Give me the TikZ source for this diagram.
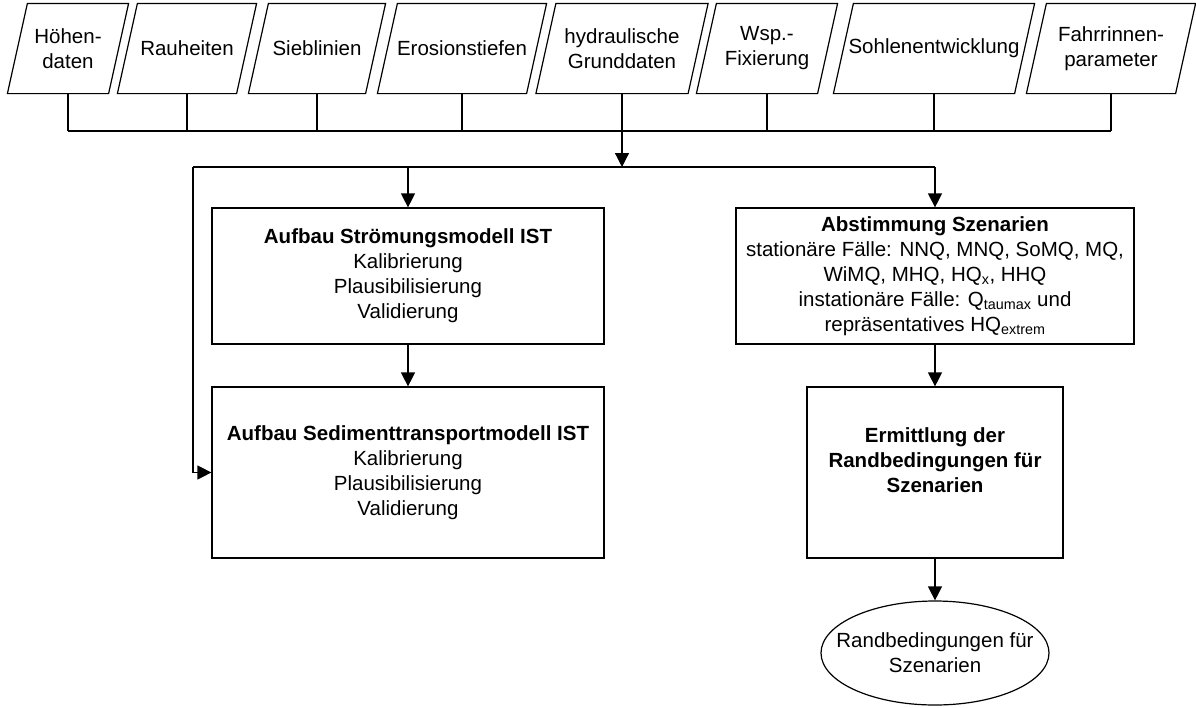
\documentclass[tikz,border=0pt]{standalone}
\usepackage{fontspec}
\setmainfont{Liberation Sans}
\usetikzlibrary{shapes.geometric,arrows.meta,positioning}
\begin{document}
\begin{tikzpicture}[x=1pt, y=-1pt, line width=1.2pt, >={Triangle[length=14pt,width=14pt]},
		font=\fontsize{20.5}{25}\selectfont,
		datain/.style={rectangle, minimum height=89pt, inner sep=0pt, align=center},
		procbox/.style={rectangle, draw, align=center, inner sep=0pt},
		resultbox/.style={ellipse, draw, align=center, inner xsep=-20pt, inner ysep=0pt,
			minimum width=228pt, minimum height=104pt}]
	\useasboundingbox (0,0) rectangle (1196,707);
	% Eingangsdaten
	\node[datain, minimum width=100pt] (hoehe) at (68,48.5) {Höhen-\\daten};
	\node[datain, minimum width=118pt] (rauh) at (187,48.5) {Rauheiten};
	\node[datain, minimum width=116pt] (sieb) at (317,48.5) {Sieblinien};
	\node[datain, minimum width=148pt] (eros) at (462,48.5) {Erosionstiefen};
	\node[datain, minimum width=151pt] (hydr) at (622,48.5) {hydraulische\\Grunddaten};
	\node[datain, minimum width=120pt] (wsp) at (767,48.5) {Wsp.-\\Fixierung};
	\node[datain, minimum width=180pt] (sohle) at (934,48.5) {Sohlenentwicklung};
	\node[datain, minimum width=148pt] (fahr) at (1111,48.5) {Fahrrinnen-\\parameter};
	\foreach \n in {hoehe,rauh,sieb,eros,hydr,wsp,sohle,fahr}
		\draw ([xshift=-10pt]\n.south west) -- ([xshift=10pt]\n.north west)
			-- ([xshift=10pt]\n.north east) -- ([xshift=-10pt]\n.south east) -- cycle;
	\coordinate (bus1) at (0,131);
	\coordinate (bus2) at (0,167);
	\coordinate (lft) at (193,167);
	% Modelle
	\node[procbox, minimum width=392pt, minimum height=136pt] (stroem) at (408,276)
		{\textbf{Aufbau Strömungsmodell IST}\\Kalibrierung\\Plausibilisierung\\Validierung};
	\node[procbox, minimum width=392pt, minimum height=171pt] (sedi) at (408,472.5)
		{\textbf{Aufbau Sedimenttransportmodell IST}\\Kalibrierung\\Plausibilisierung\\Validierung};
	% Szenarien
	\node[procbox, minimum width=398pt, minimum height=136pt] (abst) at (935,276)
		{\textbf{Abstimmung Szenarien}\\stationäre Fälle: NNQ, MNQ, SoMQ, MQ,\\WiMQ, MHQ, HQ\textsubscript{x}, HHQ\\
		instationäre Fälle: Q\textsubscript{taumax} und\\repräsentatives HQ\textsubscript{extrem}};
	\node[procbox, minimum width=256pt, minimum height=171pt] (ermit) at (935,472.5)
		{\textbf{Ermittlung der}\\\textbf{Randbedingungen für}\\\textbf{Szenarien}\\\mbox{}};
	\node[resultbox] (rand) at (935,653) {Randbedingungen für\\Szenarien};
	% Verbindungen
	\foreach \n in {hoehe,rauh,sieb,eros,wsp,sohle,fahr}
		\draw (\n.south) -- (\n |- bus1);
	\draw (hoehe |- bus1) -- (fahr |- bus1);
	\draw[->] (hydr.south) -- (hydr |- bus2);
	\draw (lft) -- (abst.north |- bus2);
	\draw[->] (stroem.north |- bus2) -- (stroem.north);
	\draw[->] (abst.north |- bus2) -- (abst.north);
	\draw[->] (lft) |- (sedi.west);
	\draw[->] (stroem) -- (sedi);
	\draw[->] (abst) -- (ermit);
	\draw[->] (ermit) -- (rand);
\end{tikzpicture}
\end{document}
